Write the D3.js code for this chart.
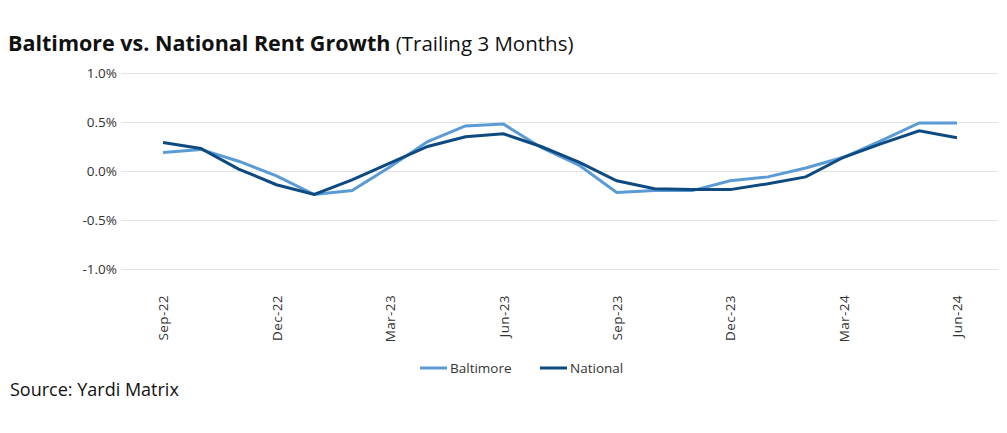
<!DOCTYPE html>
<html>
<head>
<meta charset="utf-8">
<script src="https://cdn.jsdelivr.net/npm/d3@7/dist/d3.min.js"></script>
<style>
  body { margin: 0; background: #fff; }
  svg { display: block; font-family: "Open Sans", Lato, sans-serif; }
</style>
</head>
<body>
<svg id="chart" width="1007" height="433"></svg>
<script>
const months = ["Sep-22","Oct-22","Nov-22","Dec-22","Jan-23","Feb-23","Mar-23","Apr-23","May-23","Jun-23","Jul-23","Aug-23","Sep-23","Oct-23","Nov-23","Dec-23","Jan-24","Feb-24","Mar-24","Apr-24","May-24","Jun-24"];
const baltimore = [0.19,0.22,0.10,-0.05,-0.24,-0.20,0.04,0.30,0.46,0.48,0.24,0.06,-0.22,-0.20,-0.20,-0.10,-0.06,0.03,0.14,0.31,0.49,0.49];
const national  = [0.29,0.23,0.02,-0.14,-0.24,-0.09,0.08,0.25,0.35,0.38,0.25,0.09,-0.10,-0.18,-0.19,-0.19,-0.13,-0.06,0.14,0.28,0.41,0.34];
const tickLabels = ["Sep-22","Dec-22","Mar-23","Jun-23","Sep-23","Dec-23","Mar-24","Jun-24"];
const yTicks = [1.0,0.5,0.0,-0.5,-1.0];

const svg = d3.select("#chart");
const x = d3.scalePoint().domain(months).range([163, 957]);
const y = d3.scaleLinear().domain([-1, 1]).range([269, 73]);
const font = "'Open Sans', sans-serif";

// Title
const title = svg.append("text").attr("x", 8).attr("y", 51).attr("fill", "#111").attr("font-size", 21.5);
title.append("tspan").attr("font-weight", "bold").text("Baltimore vs. National Rent Growth");
title.append("tspan").attr("font-weight", "normal").attr("font-size", 20.5).text(" (Trailing 3 Months)");

// Gridlines + y labels
const yAxis = d3.axisLeft(y).tickValues(yTicks).tickSize(-877).tickPadding(4).tickFormat(d => d.toFixed(1) + "%");
const gy = svg.append("g").attr("transform", "translate(121,0)").call(yAxis);
gy.select(".domain").remove();
gy.selectAll(".tick line").attr("stroke", "#e3e3e3").attr("stroke-width", 1);
gy.selectAll(".tick text").attr("fill", "#333").attr("font-size", 13.5).attr("font-family", font);

// X axis labels
const xAxis = d3.axisBottom(x).tickValues(tickLabels).tickSize(0).tickPadding(0);
const gx = svg.append("g").attr("transform", "translate(0,295)").call(xAxis);
gx.select(".domain").remove();
gx.selectAll(".tick text")
  .attr("fill", "#333").attr("font-size", 13.5).attr("font-family", font).attr("letter-spacing", 0.4)
  .attr("transform", "rotate(-90)")
  .attr("text-anchor", "end").attr("x", 0).attr("y", 0).attr("dy", "0.35em").attr("dx", 0);

const line = d3.line().x((d, i) => x(months[i])).y(d => y(d));
const cB = "#5b9bd5", cN = "#0d4a80";
svg.append("path").datum(baltimore).attr("d", line).attr("fill", "none").attr("stroke", cB).attr("stroke-width", 3);
svg.append("path").datum(national).attr("d", line).attr("fill", "none").attr("stroke", cN).attr("stroke-width", 3);

// Legend
const legend = [{name: "Baltimore", c: cB, x: 420}, {name: "National", c: cN, x: 540}];
legend.forEach(l => {
  svg.append("line").attr("x1", l.x).attr("x2", l.x + 27).attr("y1", 368).attr("y2", 368).attr("stroke", l.c).attr("stroke-width", 3);
  svg.append("text").attr("x", l.x + 30).attr("y", 373).attr("font-size", 13.5).attr("fill", "#333").text(l.name);
});

// Source
svg.append("text").attr("x", 10).attr("y", 396).attr("font-size", 18).attr("fill", "#111").text("Source: Yardi Matrix");
</script>
</body>
</html>
